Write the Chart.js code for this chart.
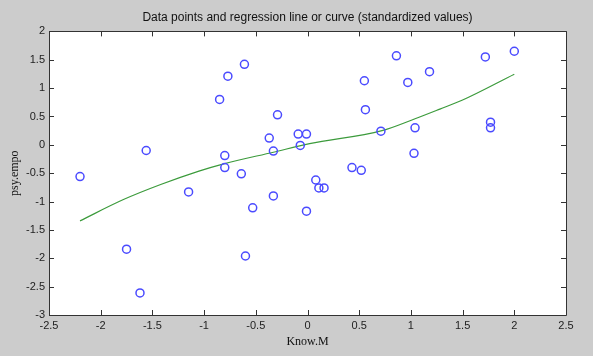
<!DOCTYPE html>
<html>
<head>
<meta charset="utf-8">
<script src="https://cdn.jsdelivr.net/npm/chart.js@4"></script>
<style>
  body { margin: 0; background: #cccccc; }
  #wrap { width: 593px; height: 356px; }
</style>
</head>
<body>
<div id="wrap"><canvas id="regChart" width="593" height="356"></canvas></div>
<script>
// data points (standardized values)
var knowM = [-2.20, -1.56, -0.85, -0.77, -0.61, -0.29, -0.37, -0.33, -0.09, -0.01,
  -0.07, -0.80, -0.80, -0.64, -1.15, -0.33, -0.53, -0.01, -1.75, -0.60,
  -1.62, 0.86, 1.72, 2.00, 1.18, 0.55, 0.97, 0.56, 1.77, 1.77,
  0.71, 1.04, 1.03, 0.43, 0.52, 0.08, 0.11, 0.16];
var psyEmpo = [-0.56, -0.10, 0.80, 1.21, 1.42, 0.53, 0.12, -0.11, 0.19, 0.19,
  -0.01, -0.19, -0.40, -0.51, -0.83, -0.90, -1.11, -1.17, -1.84, -1.96,
  -2.61, 1.57, 1.55, 1.65, 1.29, 1.13, 1.10, 0.62, 0.40, 0.30,
  0.24, 0.30, -0.15, -0.40, -0.45, -0.62, -0.76, -0.76];

// regression curve
var curveX = [-2.2, -1.78, -1.42, -1.05, -0.81, -0.33, 0.02, 0.72, 1.04, 1.28, 1.5, 2.0];
var curveY = [-1.34, -0.965, -0.70, -0.463, -0.335, -0.13, 0.02, 0.25, 0.46, 0.63, 0.79, 1.245];

var xTicks = [-2.5, -2, -1.5, -1, -0.5, 0, 0.5, 1, 1.5, 2, 2.5];
var yTicks = [-3, -2.5, -2, -1.5, -1, -0.5, 0, 0.5, 1, 1.5, 2];

var points = knowM.map(function (x, i) { return { x: x, y: psyEmpo[i] }; });
var curve = curveX.map(function (x, i) { return { x: x, y: curveY[i] }; });

// white plot area + box with inward ticks (matlab style)
function drawBox(chart) {
  var a = chart.chartArea, c = chart.ctx;
  var xs = chart.scales.x, ys = chart.scales.y;
  var len = 5;
  c.save();
  c.strokeStyle = '#333333';
  c.lineWidth = 1;
  c.beginPath();
  xTicks.forEach(function (t) {
    var px = Math.round(xs.getPixelForValue(t)) + 0.5;
    c.moveTo(px, a.bottom); c.lineTo(px, a.bottom - len);
    c.moveTo(px, a.top); c.lineTo(px, a.top + len);
  });
  yTicks.forEach(function (t) {
    var py = Math.round(ys.getPixelForValue(t)) + 0.5;
    c.moveTo(a.left, py); c.lineTo(a.left + len, py);
    c.moveTo(a.right, py); c.lineTo(a.right - len, py);
  });
  c.rect(Math.round(a.left) + 0.5, Math.round(a.top) + 0.5,
    Math.round(a.right - a.left), Math.round(a.bottom - a.top));
  c.stroke();
  c.restore();
}

var matlabAxes = {
  id: 'matlabAxes',
  beforeDatasetsDraw: function (chart) {
    var a = chart.chartArea, c = chart.ctx;
    c.save();
    c.fillStyle = '#ffffff';
    c.fillRect(a.left, a.top, a.right - a.left, a.bottom - a.top);
    c.restore();
    drawBox(chart);
  }
};

function fmt(v) { return String(v); }

var ctx = document.getElementById('regChart').getContext('2d');
var regChart = new Chart(ctx, {
  type: 'scatter',
  data: {
    datasets: [{
      label: 'data',
      data: points,
      pointStyle: 'circle',
      pointRadius: 4,
      pointBorderWidth: 1.5,
      pointBorderColor: 'rgb(75,75,255)',
      pointBackgroundColor: 'rgba(0,0,0,0)',
      showLine: false
    }, {
      label: 'curve',
      data: curve,
      showLine: true,
      pointRadius: 0,
      borderColor: 'rgb(60,155,60)',
      borderWidth: 1.2,
      cubicInterpolationMode: 'monotone'
    }]
  },
  options: {
    responsive: false,
    animation: false,
    layout: { padding: { left: 0, right: 27, top: 0, bottom: 0 } },
    scales: {
      x: {
        type: 'linear',
        min: -2.5,
        max: 2.5,
        afterBuildTicks: function (s) { s.ticks = xTicks.map(function (v) { return { value: v }; }); },
        afterFit: function (s) { s.height = 41; },
        grid: { display: false, drawTicks: false, tickLength: 0 },
        border: { display: false },
        ticks: { padding: 4, color: '#222', font: { family: 'Liberation Sans', size: 11 }, maxRotation: 0, autoSkip: false, callback: fmt },
        title: { display: true, text: 'Know.M', color: '#111', padding: { top: 0, bottom: 7 }, font: { family: 'Liberation Serif', size: 12 } }
      },
      y: {
        type: 'linear',
        min: -3,
        max: 2,
        afterBuildTicks: function (s) { s.ticks = yTicks.map(function (v) { return { value: v }; }); },
        afterFit: function (s) { s.width = 49; },
        grid: { display: false, drawTicks: false, tickLength: 0 },
        border: { display: false },
        ticks: { padding: 4, color: '#222', font: { family: 'Liberation Sans', size: 11 }, autoSkip: false, callback: fmt },
        title: { display: true, text: 'psy.empo', color: '#111', padding: { top: 8, bottom: 0 }, font: { family: 'Liberation Serif', size: 12 } }
      }
    },
    plugins: {
      legend: { display: false },
      tooltip: { enabled: false },
      title: {
        display: true,
        fullSize: false,
        text: 'Data points and regression line or curve (standardized values)',
        color: '#111',
        font: { family: 'Liberation Sans', size: 12, weight: 'normal' },
        padding: { top: 10, bottom: 7 }
      }
    }
  },
  plugins: [matlabAxes]
});
</script>
</body>
</html>
